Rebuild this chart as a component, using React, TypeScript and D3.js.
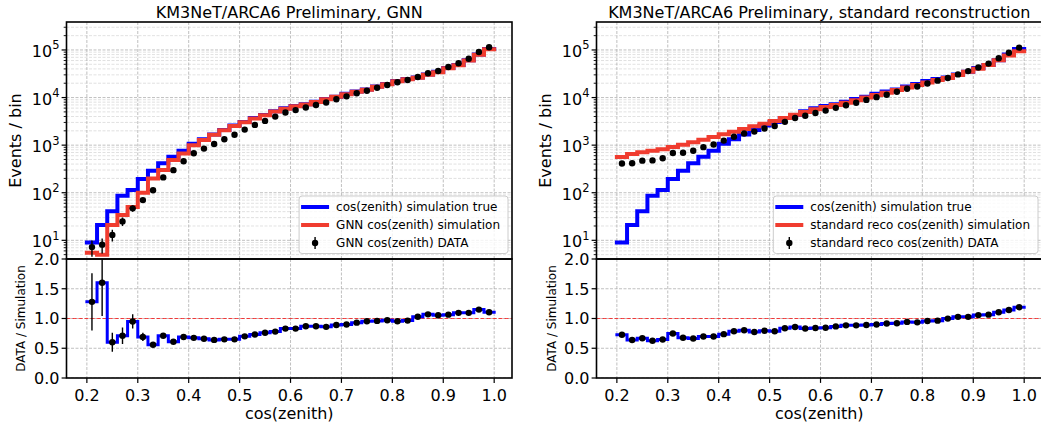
import React, { useRef, useEffect } from "react";
import * as d3 from "d3";

// bin edges of the cos(zenith) histograms
const binEdges = [
  0.2, 0.22, 0.24, 0.26, 0.28, 0.3, 0.32, 0.34, 0.36, 0.38, 0.4, 0.42, 0.44, 0.46, 0.48, 0.5, 0.52, 0.54, 0.56, 0.58,
  0.6, 0.62, 0.64, 0.66, 0.68, 0.7, 0.72, 0.74, 0.76, 0.78, 0.8, 0.82, 0.84, 0.86, 0.88, 0.9, 0.92, 0.94, 0.96, 0.98, 1.0,
];

// cos(zenith) simulation true (same in both panels)
const simTrue = [
  9, 21, 41, 86, 114, 194, 290, 415, 571, 764, 1070, 1325, 1680, 2080, 2580, 3080, 3700, 4320, 5170, 5930,
  6650, 7230, 8150, 9300, 10450, 11950, 13350, 14750, 17000, 19250, 22200, 24550, 26550, 30600, 34650, 41700, 48500, 60700, 80000, 104300,
];

// GNN panel
const gnnSim = [
  5.5, 5.0, 21, 34, 50, 100, 200, 300, 490, 665, 1000, 1280, 1650, 2050, 2540, 3030, 3650, 4250, 5100, 5850,
  6570, 7130, 8050, 9190, 10340, 11800, 13200, 14550, 16800, 19000, 21900, 24250, 26200, 30200, 34200, 41200, 47900, 59900, 79000, 103000,
];
const gnnData = [
  7.2, 8.1, 13, 25, 47, 70, 113, 210, 298, 458, 675, 845, 1060, 1330, 1650, 2120, 2660, 3230, 3980, 4850,
  5450, 6200, 7000, 7900, 9200, 10600, 12300, 13900, 16100, 18400, 20900, 23400, 27000, 32300, 36100, 43900, 52500, 65600, 90800, 113800,
];
const gnnDataErr = [2.7, 2.8, 3.6, 5, 7, 8.4, 10.6, 14.5];
const gnnRatio = [
  1.28, 1.6, 0.6, 0.71, 0.95, 0.69, 0.56, 0.71, 0.61, 0.69, 0.675, 0.66, 0.64, 0.65, 0.65, 0.7, 0.73, 0.76, 0.78, 0.83,
  0.83, 0.87, 0.87, 0.86, 0.89, 0.9, 0.93, 0.955, 0.96, 0.97, 0.955, 0.965, 1.03, 1.07, 1.055, 1.065, 1.095, 1.095, 1.15, 1.105,
];
const gnnRatioErr = [0.48, 0.56, 0.16, 0.14, 0.12, 0.07, 0.04, 0.03];

// standard reconstruction panel
const stdSim = [
  563, 650, 707, 764, 818, 915, 1023, 1148, 1300, 1482, 1690, 1918, 2184, 2487, 2820, 3210, 3700, 4350, 5000, 5650,
  6300, 7000, 7800, 8800, 10000, 11350, 12550, 14400, 16250, 18300, 20700, 23500, 25800, 29800, 35000, 40500, 48500, 60500, 76500, 94000,
];
const stdData = [
  410, 415, 472, 478, 529, 684, 692, 763, 907, 1034, 1245, 1506, 1754, 1925, 2242, 2520, 3090, 3720, 4160, 4750,
  5320, 6070, 6900, 7790, 8920, 10200, 11480, 13250, 15320, 17100, 19800, 22650, 25750, 30630, 36000, 42800, 51650, 66800, 87500, 111900,
];
const stdDataErr: number[] = [];
const stdRatio = [
  0.727, 0.638, 0.668, 0.626, 0.647, 0.748, 0.676, 0.665, 0.698, 0.698, 0.737, 0.785, 0.803, 0.774, 0.795, 0.785, 0.835, 0.856, 0.832, 0.84,
  0.845, 0.867, 0.885, 0.885, 0.892, 0.9, 0.915, 0.92, 0.943, 0.935, 0.957, 0.964, 0.998, 1.028, 1.028, 1.057, 1.065, 1.104, 1.144, 1.19,
];
const stdRatioErr: number[] = [];

const xTicks = [0.2, 0.3, 0.4, 0.5, 0.6, 0.7, 0.8, 0.9, 1.0];
const xTickLabels = ["0.2", "0.3", "0.4", "0.5", "0.6", "0.7", "0.8", "0.9", "1.0"];
const yExponents = [1, 2, 3, 4, 5];
const ratioTicks = [0, 0.5, 1, 1.5, 2];
const ratioTickLabels = ["0.0", "0.5", "1.0", "1.5", "2.0"];

const titles = ["KM3NeT/ARCA6 Preliminary, GNN", "KM3NeT/ARCA6 Preliminary, standard reconstruction"];
const legendGnn = ["cos(zenith) simulation true", "GNN cos(zenith) simulation", "GNN cos(zenith) DATA"];
const legendStd = ["cos(zenith) simulation true", "standard reco cos(zenith) simulation", "standard reco cos(zenith) DATA"];

const W = 1041;
const H = 430;
const TOP = 22;
const SPLIT = 259;
const BOTTOM = 378;
const FONT = "DejaVu Sans, Verdana, sans-serif";
const BLUE = "#0000ff";
const RED = "#f03c2f";

const panels = [
  { x0: 66.5, x1: 512, title: titles[0], sim: gnnSim, data: gnnData, dataErr: gnnDataErr, ratio: gnnRatio, ratioErr: gnnRatioErr, legend: legendGnn, ylabX: 21, rlabX: 25 },
  { x0: 596.5, x1: 1042, title: titles[1], sim: stdSim, data: stdData, dataErr: stdDataErr, ratio: stdRatio, ratioErr: stdRatioErr, legend: legendStd, ylabX: 551, rlabX: 556 },
];

const App = () => {
  const svgRef = useRef<SVGSVGElement>(null);

  useEffect(() => {
    const svg = d3.select(svgRef.current);
    svg.selectAll("*").remove();
    const defs = svg.append("defs");

    panels.forEach((p, k) => {
      const x = d3.scaleLinear().domain([0.16, 1.035]).range([p.x0, p.x1]);
      const y = d3.scaleLog().domain([4.05, 3.87e5]).range([SPLIT, TOP]);
      const r = d3.scaleLinear().domain([0, 2]).range([BOTTOM, SPLIT]);
      const centers = binEdges.slice(0, -1).map((e, i) => (e + binEdges[i + 1]) / 2);

      const step = (vals: number[], ys: (v: number) => number) => {
        let d = `M${x(binEdges[0])},${ys(vals[0])}`;
        vals.forEach((v, i) => {
          d += `H${x(binEdges[i + 1])}`;
          if (i + 1 < vals.length) d += `V${ys(vals[i + 1])}`;
        });
        return d;
      };

      defs.append("clipPath").attr("id", `clipMain${k}`).append("rect")
        .attr("x", p.x0).attr("y", TOP).attr("width", p.x1 - p.x0).attr("height", SPLIT - TOP);
      defs.append("clipPath").attr("id", `clipRatio${k}`).append("rect")
        .attr("x", p.x0).attr("y", SPLIT).attr("width", p.x1 - p.x0).attr("height", BOTTOM - SPLIT);

      /*** main panel ***/
      const gm = svg.append("g").attr("clip-path", `url(#clipMain${k})`);
      const allTicks = y.ticks();
      const minor = allTicks.filter(t => Math.abs(Math.log10(t) - Math.round(Math.log10(t))) > 1e-6);
      gm.selectAll(".minor").data(minor).enter().append("line")
        .attr("x1", p.x0).attr("x2", p.x1).attr("y1", d => y(d)).attr("y2", d => y(d))
        .attr("stroke", "#d4d4d4").attr("stroke-width", 0.7).attr("stroke-dasharray", "3,1.5");
      gm.selectAll(".major").data(yExponents).enter().append("line")
        .attr("x1", p.x0).attr("x2", p.x1).attr("y1", d => y(10 ** d)).attr("y2", d => y(10 ** d))
        .attr("stroke", "#b0b0b0").attr("stroke-width", 0.8).attr("stroke-dasharray", "3,1.5");
      gm.selectAll(".vgrid").data(xTicks).enter().append("line")
        .attr("x1", d => x(d)).attr("x2", d => x(d)).attr("y1", TOP).attr("y2", SPLIT)
        .attr("stroke", "#b0b0b0").attr("stroke-width", 0.8).attr("stroke-dasharray", "3,1.5");

      gm.append("path").attr("d", step(simTrue, y)).attr("fill", "none")
        .attr("stroke", BLUE).attr("stroke-width", 4).attr("stroke-linecap", "square");
      gm.append("path").attr("d", step(p.sim, y)).attr("fill", "none")
        .attr("stroke", RED).attr("stroke-width", 4).attr("stroke-linecap", "square");

      gm.selectAll(".err").data(p.dataErr).enter().append("line")
        .attr("x1", (d, i) => x(centers[i])).attr("x2", (d, i) => x(centers[i]))
        .attr("y1", (d, i) => y(p.data[i] + d)).attr("y2", (d, i) => y(Math.max(p.data[i] - d, 1)))
        .attr("stroke", "black").attr("stroke-width", 1.4);
      gm.selectAll(".dot").data(p.data).enter().append("circle")
        .attr("cx", (d, i) => x(centers[i])).attr("cy", d => y(d)).attr("r", 3.2).attr("fill", "black");

      /*** ratio panel ***/
      const gr = svg.append("g").attr("clip-path", `url(#clipRatio${k})`);
      gr.selectAll(".hgrid").data(ratioTicks).enter().append("line")
        .attr("x1", p.x0).attr("x2", p.x1).attr("y1", d => r(d)).attr("y2", d => r(d))
        .attr("stroke", "#b0b0b0").attr("stroke-width", 0.8).attr("stroke-dasharray", "3,1.5");
      gr.selectAll(".vgrid").data(xTicks).enter().append("line")
        .attr("x1", d => x(d)).attr("x2", d => x(d)).attr("y1", SPLIT).attr("y2", BOTTOM)
        .attr("stroke", "#b0b0b0").attr("stroke-width", 0.8).attr("stroke-dasharray", "3,1.5");
      gr.append("line").attr("x1", p.x0).attr("x2", p.x1).attr("y1", r(1)).attr("y2", r(1))
        .attr("stroke", "#ff0000").attr("stroke-opacity", 0.7).attr("stroke-width", 1.1).attr("stroke-dasharray", "4,2");
      gr.append("path").attr("d", step(p.ratio, r)).attr("fill", "none")
        .attr("stroke", BLUE).attr("stroke-width", 3).attr("stroke-linecap", "square");
      gr.selectAll(".err").data(p.ratioErr).enter().append("line")
        .attr("x1", (d, i) => x(centers[i])).attr("x2", (d, i) => x(centers[i]))
        .attr("y1", (d, i) => r(p.ratio[i] + d)).attr("y2", (d, i) => r(p.ratio[i] - d))
        .attr("stroke", "black").attr("stroke-width", 1.4);
      gr.selectAll(".dot").data(p.ratio).enter().append("circle")
        .attr("cx", (d, i) => x(centers[i])).attr("cy", d => r(d)).attr("r", 3.2).attr("fill", "black");

      /*** frames and ticks ***/
      [[TOP, SPLIT], [SPLIT, BOTTOM]].forEach(([a, b]) => {
        svg.append("rect").attr("x", p.x0).attr("y", a).attr("width", p.x1 - p.x0).attr("height", b - a)
          .attr("fill", "none").attr("stroke", "black").attr("stroke-width", 1.6);
      });

      const axisText = (sel: any) => sel.attr("font-family", FONT).attr("font-size", 16).attr("fill", "black");

      // log y ticks
      svg.selectAll(null).data(minor).enter().append("line")
        .attr("x1", p.x0).attr("x2", p.x0 - 2.8).attr("y1", d => y(d)).attr("y2", d => y(d))
        .attr("stroke", "black").attr("stroke-width", 0.9);
      svg.selectAll(null).data(yExponents).enter().append("line")
        .attr("x1", p.x0).attr("x2", p.x0 - 4.9).attr("y1", d => y(10 ** d)).attr("y2", d => y(10 ** d))
        .attr("stroke", "black").attr("stroke-width", 1.2);
      yExponents.forEach(e => {
        const t = svg.append("text").attr("x", p.x0 - 7).attr("y", y(10 ** e) + 7).attr("text-anchor", "end").call(axisText);
        t.append("tspan").text("10");
        t.append("tspan").attr("dy", -7.5).attr("font-size", 11.5).text(String(e));
      });

      // ratio y ticks
      svg.selectAll(null).data(ratioTicks).enter().append("line")
        .attr("x1", p.x0).attr("x2", p.x0 - 4.9).attr("y1", d => r(d)).attr("y2", d => r(d))
        .attr("stroke", "black").attr("stroke-width", 1.2);
      svg.selectAll(null).data(ratioTicks).enter().append("text")
        .attr("x", p.x0 - 7).attr("y", d => r(d) + 5.8).attr("text-anchor", "end")
        .text((d, i) => ratioTickLabels[i]).call(axisText);

      // x ticks
      svg.selectAll(null).data(xTicks).enter().append("line")
        .attr("x1", d => x(d)).attr("x2", d => x(d)).attr("y1", BOTTOM).attr("y2", BOTTOM + 4.9)
        .attr("stroke", "black").attr("stroke-width", 1.2);
      svg.selectAll(null).data(xTicks).enter().append("text")
        .attr("x", d => x(d)).attr("y", 401).attr("text-anchor", "middle")
        .text((d, i) => xTickLabels[i]).call(axisText);

      // labels
      const cx = (p.x0 + p.x1) / 2;
      svg.append("text").attr("x", cx).attr("y", 18).attr("text-anchor", "middle").text(p.title).call(axisText);
      svg.append("text").attr("x", cx).attr("y", 419).attr("text-anchor", "middle").text("cos(zenith)").call(axisText);
      svg.append("text").attr("transform", `translate(${p.ylabX},${(TOP + SPLIT) / 2}) rotate(-90)`)
        .attr("text-anchor", "middle").text("Events / bin").call(axisText);
      svg.append("text").attr("transform", `translate(${p.rlabX},${(SPLIT + BOTTOM) / 2}) rotate(-90)`)
        .attr("text-anchor", "middle").text("DATA / Simulation").call(axisText).attr("font-size", 12);

      /*** legend ***/
      const lg = svg.append("g");
      const rows = [207, 225, 243];
      const texts = p.legend.map((t, i) =>
        lg.append("text").attr("y", rows[i] + 4.3).attr("font-family", FONT).attr("font-size", 12).attr("fill", "black").text(t)
      );
      const tw = Math.max(...texts.map(t => (t.node() as SVGTextElement).getComputedTextLength()));
      const boxR = p.x1 - 4;
      const boxL = boxR - tw - 45;
      texts.forEach(t => t.attr("x", boxL + 37));
      lg.insert("rect", ":first-child").attr("x", boxL).attr("y", 196).attr("width", boxR - boxL).attr("height", 57.5)
        .attr("rx", 3).attr("fill", "white").attr("fill-opacity", 0.8).attr("stroke", "#cccccc").attr("stroke-width", 1);
      lg.append("line").attr("x1", boxL + 4).attr("x2", boxL + 28).attr("y1", rows[0]).attr("y2", rows[0])
        .attr("stroke", BLUE).attr("stroke-width", 4).attr("stroke-linecap", "square");
      lg.append("line").attr("x1", boxL + 4).attr("x2", boxL + 28).attr("y1", rows[1]).attr("y2", rows[1])
        .attr("stroke", RED).attr("stroke-width", 4).attr("stroke-linecap", "square");
      lg.append("line").attr("x1", boxL + 16).attr("x2", boxL + 16).attr("y1", rows[2] - 6).attr("y2", rows[2] + 6)
        .attr("stroke", "black").attr("stroke-width", 1.4);
      lg.append("circle").attr("cx", boxL + 16).attr("cy", rows[2]).attr("r", 3.2).attr("fill", "black");
    });
  }, []);

  return (
    <svg ref={svgRef} width={W} height={H}
      style={{ position: "absolute", left: 0, top: 0, background: "white" }} />
  );
};

export default App;
